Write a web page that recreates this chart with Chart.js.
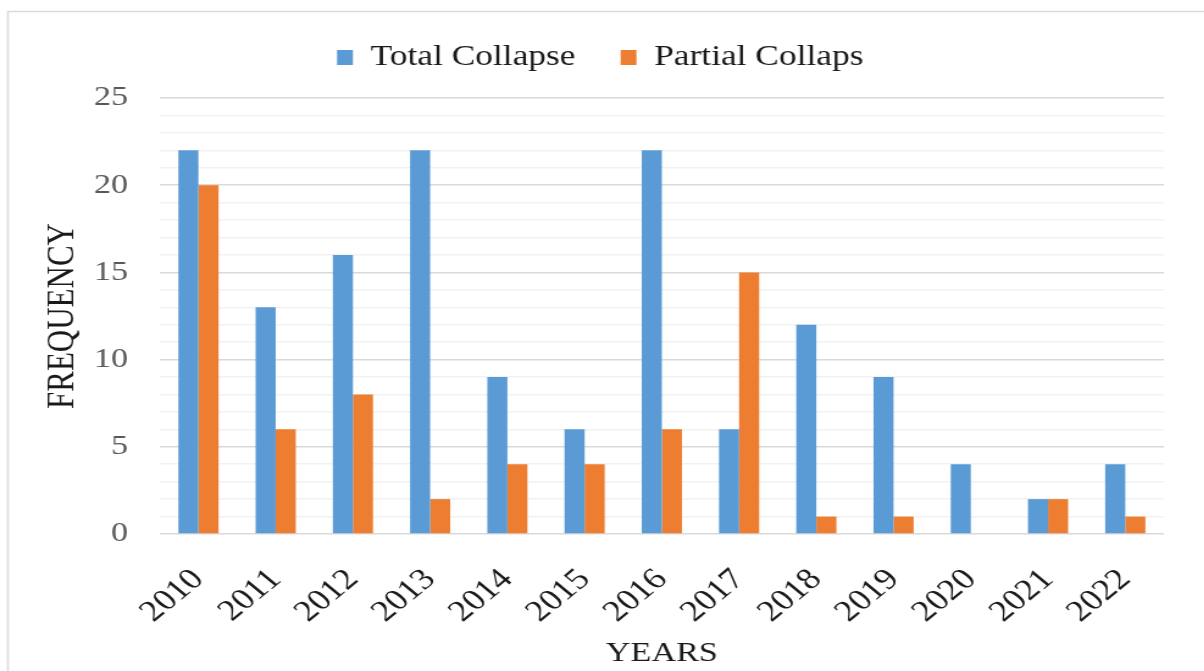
<!DOCTYPE html>
<html>
<head>
<meta charset="utf-8">
<script src="https://cdn.jsdelivr.net/npm/chart.js@4"></script>
<style>
    html, body { margin: 0; padding: 0; background: #fff; overflow: hidden; }
    /* the source picture is stretched sideways, so the chart is drawn narrow and widened */
    #wrap { width: 987px; height: 671px; transform: scaleX(1.22); transform-origin: 0 0; }
</style>
</head>
<body>
<div id="wrap"><canvas id="chart"></canvas></div>
<script>
// Data
const years = ['2010', '2011', '2012', '2013', '2014', '2015', '2016', '2017', '2018', '2019', '2020', '2021', '2022'];
const totalCollapse = [22, 13, 16, 22, 9, 6, 22, 6, 12, 9, 4, 2, 4];
const partialCollapse = [20, 6, 8, 2, 4, 4, 6, 15, 1, 1, 0, 2, 1];
const yTickLabels = [0, 5, 10, 15, 20, 25];

Chart.defaults.font.family = '"Liberation Serif", "Times New Roman", serif';

// Light frame round the chart, as in the source
const framePlugin = {
    id: 'frame',
    beforeDraw(chart) {
        const ctx = chart.ctx;
        ctx.save();
        ctx.strokeStyle = '#d9d9d9';
        ctx.lineWidth = 1.5;
        ctx.strokeRect(6.5, 11.5, chart.width + 20, chart.height + 20);
        ctx.restore();
    }
};

// Extra space under the legend (legend padding only goes above the items)
const legendGapPlugin = {
    id: 'legendGap',
    beforeLayout(chart) {
        const legend = chart.legend;
        if (!legend || legend._gapAdded) return;
        const fit = legend.fit.bind(legend);
        legend.fit = function() {
            fit();
            this.height += 16;
        };
        legend._gapAdded = true;
    }
};

new Chart(document.getElementById('chart').getContext('2d'), {
    type: 'bar',
    data: {
        labels: years,
        datasets: [{
            label: 'Total Collapse',
            data: totalCollapse,
            backgroundColor: '#5b9bd5',
            categoryPercentage: 0.52,
            barPercentage: 1
        }, {
            label: 'Partial Collaps',
            data: partialCollapse,
            backgroundColor: '#ed7d31',
            categoryPercentage: 0.52,
            barPercentage: 1
        }]
    },
    options: {
        responsive: true,
        maintainAspectRatio: false,
        animation: false,
        layout: {
            padding: { left: 30, right: 33, top: 6, bottom: 0 }
        },
        scales: {
            y: {
                min: 0,
                max: yTickLabels[yTickLabels.length - 1],
                ticks: {
                    stepSize: 1,
                    autoSkip: false,
                    padding: 26,
                    color: '#595959',
                    font: { size: 28 },
                    callback: v => yTickLabels.includes(v) ? v : ''
                },
                grid: {
                    drawTicks: false,
                    lineWidth: 1.5,
                    color: c => yTickLabels.includes(c.tick.value) ? '#d9d9d9' : '#f2f2f2'
                },
                border: { display: false },
                title: {
                    display: true,
                    text: 'FREQUENCY',
                    color: '#1a1a1a',
                    font: { size: 31 },
                    padding: { top: 3, bottom: 0 }
                },
                afterFit: scale => { scale.width = 101; }
            },
            x: {
                ticks: {
                    minRotation: 45,
                    maxRotation: 45,
                    padding: 28,
                    color: '#1a1a1a',
                    font: { size: 30 }
                },
                grid: { display: false, drawTicks: false },
                border: { display: false },
                title: {
                    display: true,
                    text: 'YEARS',
                    color: '#1a1a1a',
                    font: { size: 28 },
                    padding: { top: 0, bottom: 1 }
                },
                afterFit: scale => { scale.height = 137; }
            }
        },
        plugins: {
            legend: {
                position: 'top',
                labels: {
                    color: '#1a1a1a',
                    font: { size: 29 },
                    boxWidth: 13,
                    boxHeight: 15,
                    padding: 37
                }
            },
            tooltip: { enabled: false }
        }
    },
    plugins: [framePlugin, legendGapPlugin]
});
</script>
</body>
</html>
